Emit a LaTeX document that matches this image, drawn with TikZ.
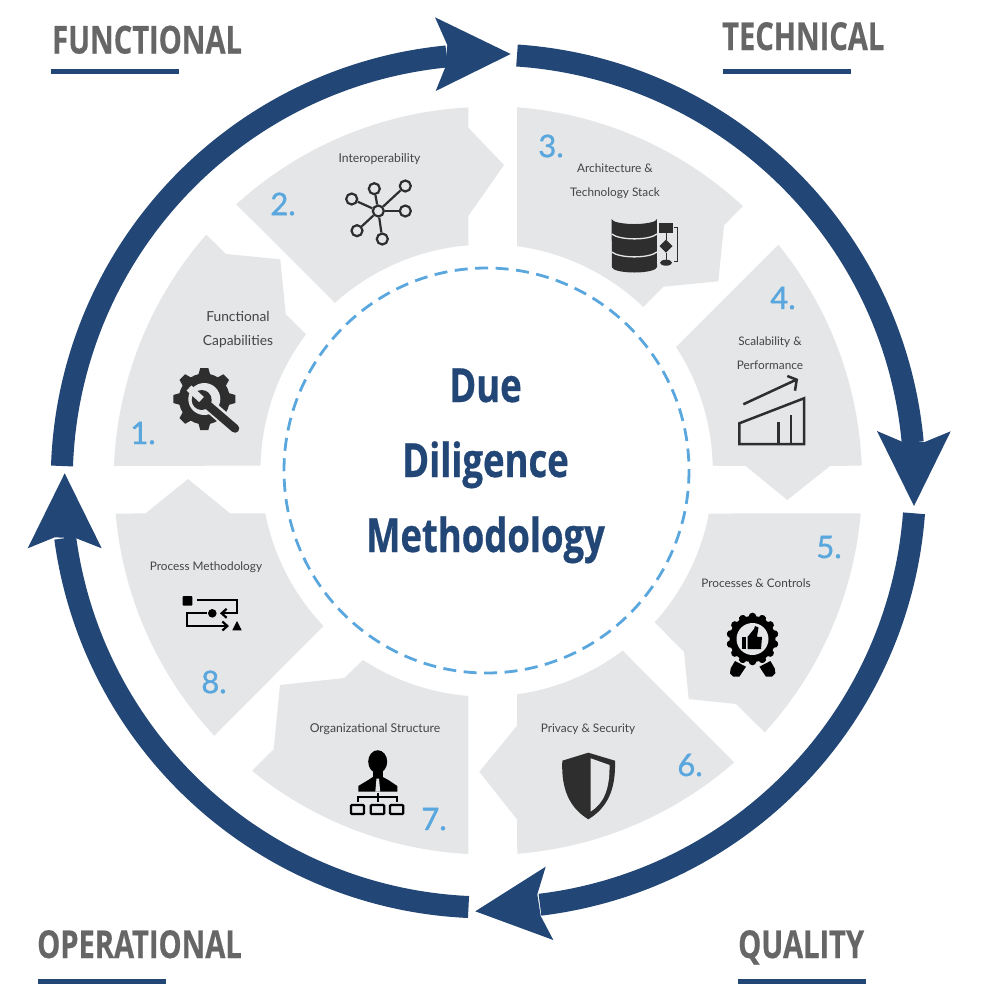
\documentclass[tikz,border=0pt]{standalone}
\usepackage{fontspec}
\usetikzlibrary{arrows.meta}
\setmainfont{Lato}
\newfontfamily\headfont[FakeStretch=0.755,FakeBold=0.4]{Open Sans}
\newfontfamily\mainfont[FakeStretch=0.775,FakeBold=0.6]{Open Sans}
\newfontfamily\numfont[FakeBold=1.2]{Lato}
\definecolor{navy}{HTML}{224675}
\definecolor{skyblue}{HTML}{5AA7DE}
\definecolor{petalgray}{HTML}{E5E6E8}
\definecolor{headgray}{HTML}{666666}
\definecolor{labelgray}{HTML}{444444}
\definecolor{icondark}{HTML}{2E2E2E}
\tikzset{
  ringarc/.style={draw=navy,line width=22pt},
  ringhead/.style={fill=navy},
  petal/.style={fill=petalgray},
  headline/.style={fill=navy},
  headtext/.style={text=headgray,inner sep=0pt,anchor=base west,font=\headfont\bfseries\fontsize{38.5}{40}\selectfont},
  maintext/.style={text=navy,inner sep=0pt,anchor=base,font=\mainfont\bfseries\fontsize{47}{50}\selectfont},
  numtext/.style={text=skyblue,inner sep=0pt,font=\numfont\fontsize{31}{33}\selectfont},
  labeltext/.style={text=labelgray,inner sep=0pt,align=center,font=\fontsize{11.8}{24}\selectfont},
  hubdot/.style={circle,draw=icondark,line width=2.2pt,fill=petalgray,minimum size=11pt,inner sep=0pt},
  hubline/.style={draw=icondark,line width=2.2pt},
  iconline/.style={draw=icondark,line width=2.5pt},
  blackline/.style={draw=black,line width=2.2pt}
}
\begin{document}
\begin{tikzpicture}[x=1pt,y=-1pt]
\useasboundingbox (0,0) rectangle (997,997);
\fill[white] (0,0) rectangle (997,997);
% outer ring
\draw[ringarc] (62,466) arc[start angle=182,end angle=264.4,radius=426.5];
\draw[ringarc] (517,55.5) arc[start angle=273.9,end angle=354.8,radius=426.5];
\draw[ringarc] (914,513.3) arc[start angle=4.3,end angle=83.1,radius=426.5];
\draw[ringarc] (468.5,907) arc[start angle=92.6,end angle=172.3,radius=426.5];
\fill[ringhead] (510.7,54) -- (435,17.3) -- (447.3,45) -- (445,68) -- (435.7,91) -- cycle;
\fill[ringhead] (914,506) -- (877,431) -- (902.7,442) -- (924.7,442) -- (950.7,431.3) -- cycle;
\fill[ringhead] (475.3,911.3) -- (545.7,866.7) -- (537.3,894.3) -- (540.7,916) -- (553.3,940) -- cycle;
\fill[ringhead] (64.7,473.3) -- (27.7,548.3) -- (54.7,537.3) -- (76.3,538.3) -- (101.7,548.3) -- cycle;
% petals
\fill[petal] (114,466) arc[start angle=182.3,end angle=221.2,radius=374] -- (226,254) -- (280.3,259.3) -- (285.7,314) -- (306,334.3) arc[start angle=217,end angle=181.2,radius=226] -- cycle;
\fill[petal] (236.3,204.3) arc[start angle=227.7,end angle=267,radius=374] -- (468.3,127.7) -- (504,165) -- (468.3,216) -- (468.3,245.3) arc[start angle=265.4,end angle=227.9,radius=226] -- cycle;
\fill[petal] (517,107.3) arc[start angle=274.4,end angle=312.9,radius=374] -- (724,225.3) -- (718.3,281.3) -- (663.3,286.7) -- (643.3,307) arc[start angle=313.8,end angle=277.7,radius=226] -- cycle;
\fill[petal] (778.3,244.7) arc[start angle=320.9,end angle=357.7,radius=374] -- (830,466) -- (787.3,500) -- (745.7,466) -- (712.7,465.7) arc[start angle=358.8,end angle=326.9,radius=226] -- cycle;
\fill[petal] (860.7,513.3) arc[start angle=5,end angle=42.3,radius=374] -- (736,704) -- (688.7,699) -- (684,652) -- (654.7,622.3) arc[start angle=42.1,end angle=10.9,radius=226] -- cycle;
\fill[petal] (734.3,762.3) arc[start angle=48.8,end angle=85.5,radius=374] -- (517,819.3) -- (479.3,771.7) -- (517,725.7) -- (517,694.3) arc[start angle=82.2,end angle=52.9,radius=226] -- cycle;
\fill[petal] (468.3,854) arc[start angle=93,end angle=129.1,radius=374] -- (273.7,749.3) -- (280,685) -- (344.3,678) -- (363,660) arc[start angle=123.1,end angle=94.6,radius=226] -- cycle;
\fill[petal] (214.3,735.7) arc[start angle=137.1,end angle=175,radius=374] -- (145.7,513.3) -- (188,479) -- (230,513.3) -- (265.3,513.3) arc[start angle=169,end angle=136.4,radius=226] -- cycle;
% centre
\draw[skyblue,line width=2.8pt,dash pattern=on 13pt off 7.5pt] (486.5,470.5) circle[radius=202.5];
\node[maintext](due) at (485.5,402) {Due};
\node[maintext](diligence) at (485.5,477) {Diligence};
\node[maintext](methodology) at (485.5,552) {Methodology};
% corner headings
\node[headtext](functional) at (52,53.5) {FUNCTIONAL};
\node[headtext](technical) at (722,50) {TECHNICAL};
\node[headtext](operational) at (37,958) {OPERATIONAL};
\node[headtext](quality) at (738,958) {QUALITY};
\fill[headline] (51,69) rectangle (179,74);
\fill[headline] (723,69) rectangle (851,74);
\fill[headline] (38,979) rectangle (166,984);
\fill[headline] (738,979) rectangle (866,984);
% numbers
\node[numtext](numa) at (143,433) {1.};
\node[numtext](numb) at (283,204) {2.};
\node[numtext](numc) at (551,146) {3.};
\node[numtext](numd) at (783,298) {4.};
\node[numtext](nume) at (829,547) {5.};
\node[numtext](numf) at (690,765) {6.};
\node[numtext](numg) at (434,819) {7.};
\node[numtext](numh) at (214,682) {8.};
% labels
\node[labeltext,font=\fontsize{13.8}{24}\selectfont](lblfunc) at (238,329.5) {Functional\\Capabilities};
\node[labeltext,font=\fontsize{12.2}{24}\selectfont](lblinter) at (379.5,159) {Interoperability};
\node[labeltext](lblarch) at (615,181.5) {Architecture \&\\Technology Stack};
\node[labeltext](lblscale) at (770,353) {Scalability \&\\Performance};
\node[labeltext](lblproc) at (756,583.5) {Processes \& Controls};
\node[labeltext](lblpriv) at (588,729.5) {Privacy \& Security};
\node[labeltext,font=\fontsize{12.2}{24}\selectfont](lblorg) at (375,729.5) {Organizational Structure};
\node[labeltext](lblmeth) at (206,567.5) {Process Methodology};
% gear and wrench
\begin{scope}[shift={(204.3,399)}]
\fill[icondark] (0,0) circle[radius=25.5];
\foreach \a in {0,45,...,315}
  \fill[icondark,rotate=\a] (-6,-24) -- (-4,-31) -- (4,-31) -- (6,-24) -- cycle;
\fill[petalgray] (0,0) circle[radius=16];
\end{scope}
\draw[petalgray,line width=13pt] (213,409) -- (238,431);
\fill[icondark] (201.7,400) circle[radius=10];
\draw[icondark,line width=8.5pt,line cap=round] (203,401) -- (235,428.5);
\draw[petalgray,line width=7pt] (201.5,399.5) -- (189,388);
% network
\node[hubdot](hub) at (378.3,211) {};
\node[hubdot](neta) at (351.7,199) {};
\node[hubdot](netb) at (374.3,188.7) {};
\node[hubdot](netc) at (405.3,186) {};
\node[hubdot](netd) at (405.3,211) {};
\node[hubdot](nete) at (357,230.7) {};
\node[hubdot](netf) at (382.3,239) {};
\draw[hubline] (hub)--(neta);
\draw[hubline] (hub)--(netb);
\draw[hubline] (hub)--(netc);
\draw[hubline] (hub)--(netd);
\draw[hubline] (hub)--(nete);
\draw[hubline] (hub)--(netf);
% database
\fill[icondark] (611.7,219) arc[start angle=180,end angle=360,x radius=22.6,y radius=-5] -- (657,267) arc[start angle=0,end angle=180,x radius=22.6,y radius=5.5] -- cycle;
\draw[petalgray,line width=1.3pt] (611.7,218) .. controls (620,224.5) and (649,224.5) .. (657,218);
\draw[petalgray,line width=1.3pt] (611.7,234) .. controls (620,240.5) and (649,240.5) .. (657,234);
\draw[petalgray,line width=1.3pt] (611.7,252) .. controls (620,258.5) and (649,258.5) .. (657,252);
\fill[icondark] (659.3,223.3) rectangle (672.7,232.7);
\fill[icondark] (666,239.5) -- (672.5,246) -- (666,252.5) -- (659.5,246) -- cycle;
\fill[icondark] (666,262.7) ellipse[x radius=6,y radius=3];
\draw[icondark,line width=1pt] (666,233) -- (666,239.5);
\draw[icondark,line width=1pt] (666,252.5) -- (666,259.7);
\draw[icondark,line width=0.9pt] (674.3,227.7) -- (677.7,227.7) -- (677.7,261.3) -- (674.3,261.3);
% chart
\draw[iconline] (743.3,404.3) -- (796.7,379.5);
\draw[iconline] (787.3,376) -- (796.7,379.7) -- (795,390.7);
\draw[iconline] (739.3,423.3) -- (804,398.3) -- (804,444) -- (739.3,444) -- cycle;
\draw[iconline] (778.3,422.3) -- (778.3,444);
\draw[iconline] (791,415) -- (791,444);
% award
\begin{scope}[shift={(752.5,639)}]
\fill[black] (0,0) circle[radius=23];
\foreach \i in {0,...,13}
  \fill[black,rotate=\i*25.714] (0,-22.5) circle[radius=3.8];
\fill[petalgray] (0,0) circle[radius=16];
\end{scope}
\fill[black] (741.7,637) rectangle (746,649);
\fill[black] (747.5,637) -- (754,629) -- (755,626) -- (758.5,627.5) -- (757,636.7) -- (762,637) -- (761,649) -- (747.5,649) -- cycle;
\fill[black] (735,661) -- (746,666.7) -- (739.3,676.7) -- (733.3,676.7) -- (730,673.3) -- (730.7,668.3) -- cycle;
\fill[black] (770.4,661) -- (759.4,666.7) -- (766,676.7) -- (772,676.7) -- (775.4,673.3) -- (774.7,668.3) -- cycle;
% shield
\fill[icondark] (588.3,752.7) -- (615,760.7) .. controls (616,790) and (607,808) .. (588.3,819.3) .. controls (570,808) and (561,790) .. (562.3,760.7) -- cycle;
\fill[petalgray] (590.7,758.3) -- (609.5,765) .. controls (610,790) and (603,804) .. (590.7,811.5) -- cycle;
% person
\fill[black] (377.7,761.7) ellipse[x radius=9.5,y radius=11.5];
\fill[black] (372.5,770) rectangle (383,778);
\fill[black] (358.3,791.7) -- (358.3,786) -- (368.3,780) -- (373.3,776.7) -- (382.3,776.7) -- (388.3,780) -- (397.3,786) -- (397.3,791.7) -- cycle;
\fill[petalgray] (376.5,778.5) -- (379,778.5) -- (380.2,791.7) -- (375.3,791.7) -- cycle;
\draw[blackline] (358.3,801.7) -- (358.3,796.7) -- (397.3,796.7) -- (397.3,801.7);
\draw[blackline] (377.7,793) -- (377.7,801.7);
\draw[blackline,rounded corners=1pt] (351,805) rectangle (364,814);
\draw[blackline,rounded corners=1pt] (370.7,805) rectangle (384.3,814);
\draw[blackline,rounded corners=1pt] (390,805) rectangle (403.3,814);
% process
\fill[black,rounded corners=1pt] (182.7,596) rectangle (192.3,605.7);
\draw[blackline,-{Straight Barb[length=5pt,width=9pt]}] (196.7,600) -- (237.3,600) -- (237.3,613.3) -- (220,613.3);
\fill[black] (212.3,613.3) circle[radius=4.3];
\draw[blackline,-{Straight Barb[length=5pt,width=9pt]}] (207.3,613.3) -- (187.3,613.3) -- (187.3,626) -- (229,626);
\fill[black] (232.3,630.3) -- (241.7,630.3) -- (237,621) -- cycle;
\end{tikzpicture}
\end{document}
